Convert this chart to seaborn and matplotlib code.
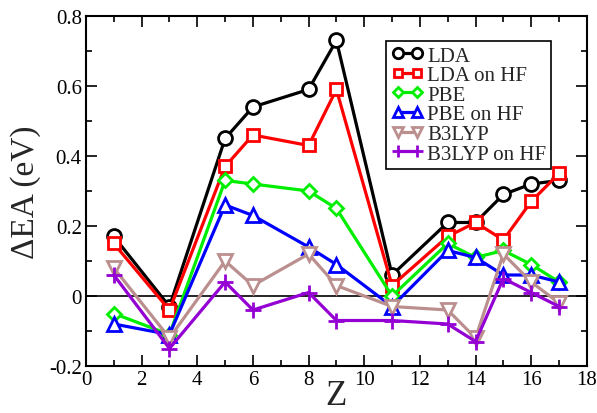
import matplotlib
matplotlib.use("Agg")
import matplotlib.pyplot as plt
import seaborn as sns
import pandas as pd
from matplotlib.ticker import MultipleLocator

# Atomic numbers of the elements studied
Z = [1, 3, 5, 6, 8, 9, 11, 13, 14, 15, 16, 17]

# Electron affinity errors (eV) for each functional
lda = [0.17, -0.03, 0.45, 0.54, 0.59, 0.73, 0.06, 0.21, 0.21, 0.29, 0.32, 0.33]
lda_hf = [0.15, -0.04, 0.37, 0.46, 0.43, 0.59, 0.03, 0.17, 0.21, 0.16, 0.27, 0.35]
pbe = [-0.05, -0.11, 0.33, 0.32, 0.30, 0.25, 0.00, 0.15, 0.11, 0.13, 0.09, 0.04]
pbe_hf = [-0.08, -0.11, 0.26, 0.23, 0.14, 0.09, -0.03, 0.13, 0.11, 0.06, 0.06, 0.04]
b3lyp = [0.08, -0.12, 0.10, 0.03, 0.12, 0.03, -0.03, -0.04, -0.12, 0.12, 0.04, -0.02]
b3lyp_hf = [0.06, -0.15, 0.04, -0.04, 0.01, -0.07, -0.07, -0.08, -0.13, 0.05, 0.01, -0.03]

labels = ["LDA", "LDA on HF", "PBE", "PBE on HF", "B3LYP", "B3LYP on HF"]
series = [lda, lda_hf, pbe, pbe_hf, b3lyp, b3lyp_hf]
colors = ["#000000", "#ff0000", "#00ee00", "#0000ff", "#bc8f8f", "#9400d3"]
markers = ["o", "s", "D", "^", "v", "+"]
msizes = [10, 8, 7, 10, 10, 11]

sns.set_style("ticks")
plt.rcParams["font.family"] = ["Liberation Serif", "DejaVu Serif"]
plt.rcParams["axes.unicode_minus"] = False

fig = plt.figure(figsize=(5.97, 4.14), dpi=100)
ax = fig.add_axes([0.144, 0.1135, 0.839, 0.8455])

ax.axhline(0, color="black", lw=1.2, zorder=1)

for lab, vals, c, m, ms in zip(labels, series, colors, markers, msizes):
    df = pd.DataFrame({"Z": Z, "EA": vals})
    face = c if m == "+" else "white"
    sns.lineplot(data=df, x="Z", y="EA", ax=ax, color=c, lw=2.3,
                 marker=m, markersize=ms, markeredgewidth=2.0,
                 markerfacecolor=face, markeredgecolor=c, label=lab,
                 zorder=3)

ax.set_xlim(0, 18)
ax.set_ylim(-0.2, 0.8)
ax.xaxis.set_minor_locator(MultipleLocator(1))
ax.yaxis.set_minor_locator(MultipleLocator(0.1))
ax.set_xticks(range(0, 19, 2))
ax.set_xticklabels([str(v) for v in range(0, 19, 2)])
ax.set_yticks([-0.2, 0, 0.2, 0.4, 0.6, 0.8])
ax.set_yticklabels(["-0.2", "0", "0.2", "0.4", "0.6", "0.8"])

ax.tick_params(which="both", direction="in", top=True, right=True,
               labelsize=15, width=1.2, colors="black", pad=3)
ax.tick_params(which="major", length=8)
ax.tick_params(which="minor", length=4)
for sp in ax.spines.values():
    sp.set_linewidth(1.5)
    sp.set_color("black")

xl = ax.set_xlabel("Z", fontsize=25)
xl.set_va("baseline")
ax.xaxis.set_label_coords(0.5, -0.108)
ax.set_ylabel("ΔEA (eV)", fontsize=24, labelpad=6)

leg = ax.legend(loc="upper left", bbox_to_anchor=(0.6, 0.929),
                borderaxespad=0, fontsize=15, handlelength=1.5,
                handletextpad=0.2, labelspacing=0.0, borderpad=0.25,
                numpoints=2, markerscale=0.75,
                fancybox=False, framealpha=1, edgecolor="black")
leg.get_frame().set_linewidth(1.2)

fig.savefig("out.png", dpi=100)
